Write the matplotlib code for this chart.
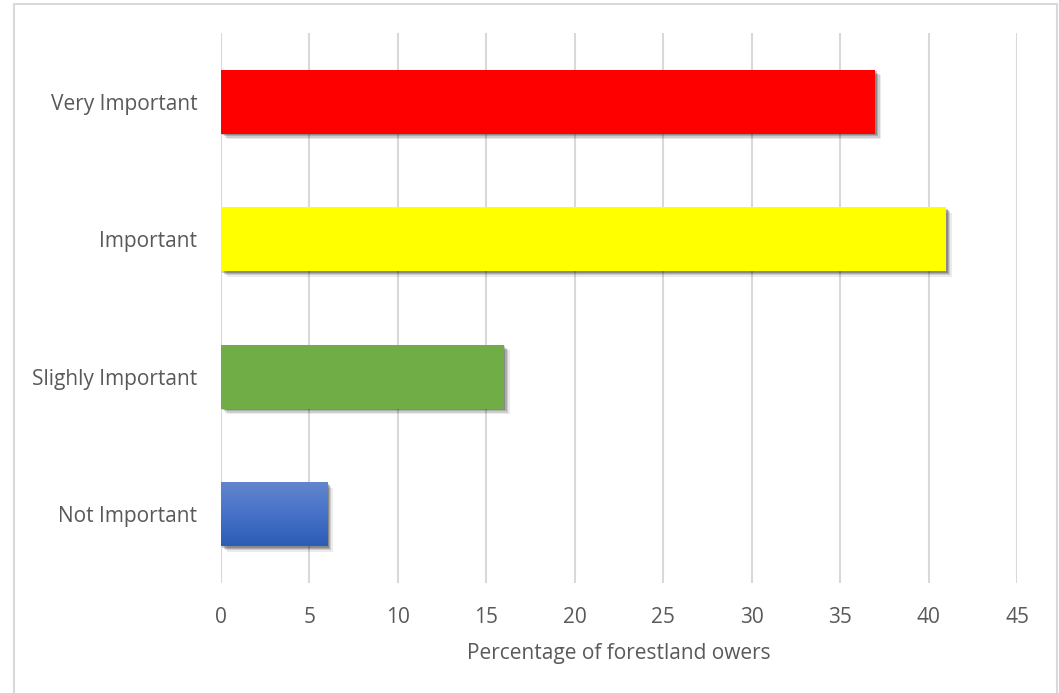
import numpy as np
import matplotlib.pyplot as plt
import matplotlib.patheffects as pe
from matplotlib.colors import LinearSegmentedColormap
from matplotlib.patches import Rectangle

# Data
categories = ['Not Important', 'Slighly Important', 'Important', 'Very Important']
values = [6, 16, 41, 37]
colors = ['#3A6BC4', '#70AD47', '#FFFF00', '#FF0000']
x_ticks = [0, 5, 10, 15, 20, 25, 30, 35, 40, 45]

plt.rcParams['font.family'] = ['Open Sans', 'DejaVu Sans']
text_color = '#595959'

fig = plt.figure(figsize=(10.59, 6.93), dpi=100)
ax = fig.add_axes([221/1059, 110/693, 796/1059, 550/693])

# gray frame around the chart (bottom edge sits off the image)
fig.patches.append(Rectangle((14/1059, -5/693), 1043/1059, 694/693,
                             transform=fig.transFigure, fill=False,
                             edgecolor='#D9D9D9', lw=1.5))

y = np.arange(len(categories))
# soft drop shadow, stacked offsets to fake a blur
shadow = [pe.SimplePatchShadow(offset=(4, -4), shadow_rgbFace='black', alpha=0.08),
          pe.SimplePatchShadow(offset=(3, -3), shadow_rgbFace='black', alpha=0.12),
          pe.SimplePatchShadow(offset=(2, -2), shadow_rgbFace='black', alpha=0.16),
          pe.SimplePatchShadow(offset=(1, -1), shadow_rgbFace='black', alpha=0.2),
          pe.Normal()]
bars = ax.barh(y, values, height=0.465, color=colors, zorder=3)
for b in bars:
    b.set_path_effects(shadow)

# gradient on the blue bar
b0 = bars[0]
grad_cmap = LinearSegmentedColormap.from_list('g', ['#2C5CB6', '#4672C8', '#6285CE'])
img = ax.imshow(np.linspace(0, 1, 100).reshape(-1, 1), cmap=grad_cmap, aspect='auto',
                extent=[0, values[0], b0.get_y(), b0.get_y() + b0.get_height()],
                origin='lower', zorder=4)
img.set_clip_path(b0)

ax.set_xlim(0, 45)
ax.set_ylim(-0.5, 3.5)
ax.set_xticks(x_ticks)
ax.set_yticks(y)
ax.set_yticklabels(categories)
ax.grid(axis='x', color='#D9D9D9', lw=1.5, zorder=0)
for s in ax.spines.values():
    s.set_visible(False)
ax.tick_params(axis='both', length=0, labelsize=15, colors=text_color)
ax.tick_params(axis='x', pad=17)
ax.tick_params(axis='y', pad=17)
ax.set_xlabel('Percentage of forestland owers', fontsize=15, color=text_color, labelpad=11)

fig.savefig('out.png', dpi=100)
